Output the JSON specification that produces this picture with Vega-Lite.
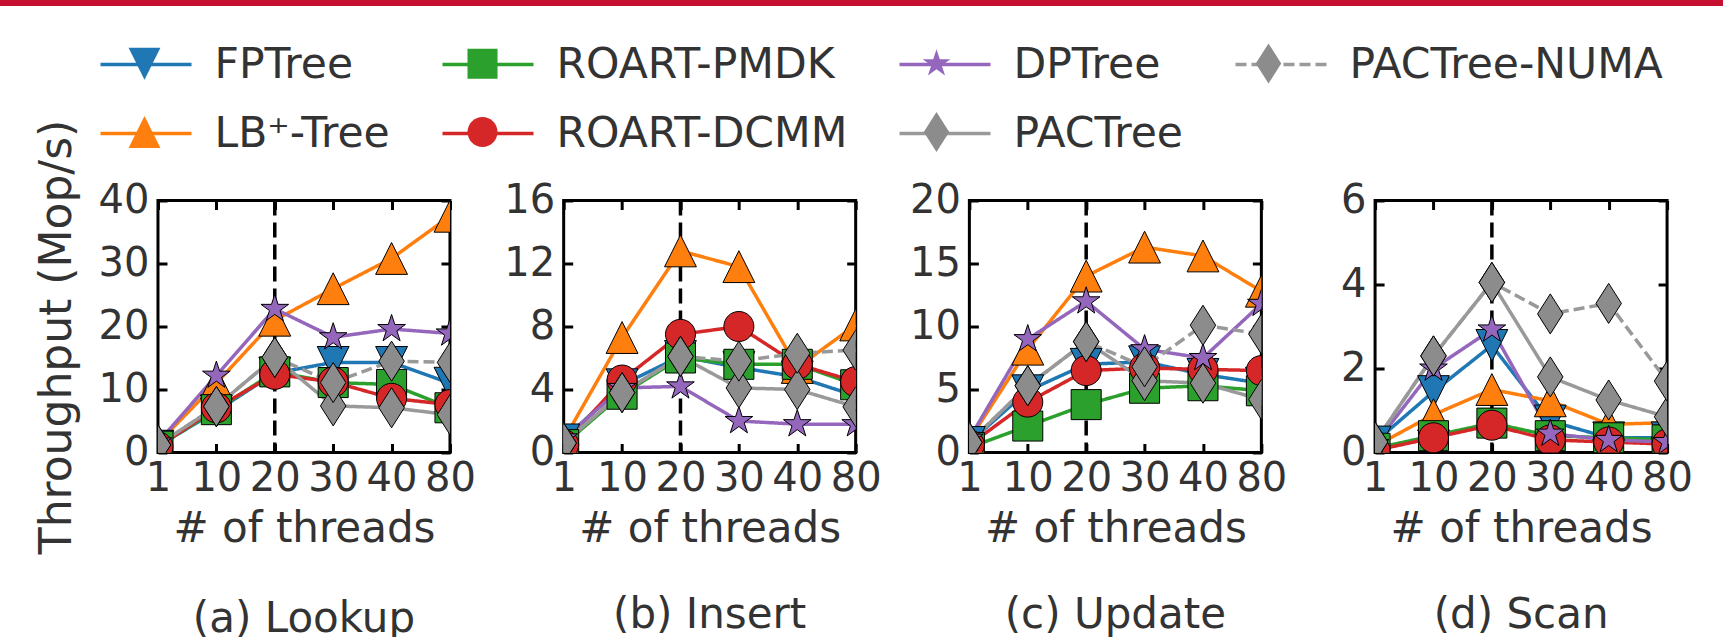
{
  "$schema": "https://vega.github.io/schema/vega-lite/v6.json",
  "padding": 0,
  "background": "white",
  "config": {
    "font": "DejaVu Sans",
    "view": {"stroke": "black", "strokeWidth": 3},
    "axis": {"grid": false, "domain": false, "tickColor": "black", "tickWidth": 3, "tickSize": -9, "labelFont": "DejaVu Sans", "labelFontSize": 40, "labelColor": "#333333", "titleFont": "DejaVu Sans", "titleFontSize": 42, "titleFontWeight": "normal", "titleColor": "#333333", "labelFlush": false, "labelOverlap": false},
    "legend": {"orient": "none", "legendX": 98.5, "legendY": 17, "columns": 4, "symbolSize": 8281, "labelFont": "DejaVu Sans", "labelFontSize": 42.5, "labelColor": "#333333", "labelLimit": 0, "columnPadding": 45, "rowPadding": -8.5, "padding": 0},
    "title": {"font": "DejaVu Sans", "fontSize": 42, "fontWeight": "normal", "color": "#333333"}
  },
  "data": {"values": [
    {"panel":"a","threads":1,"series":"FPTree","value":1.0},{"panel":"a","threads":10,"series":"FPTree","value":6.6},{"panel":"a","threads":20,"series":"FPTree","value":12.6},{"panel":"a","threads":30,"series":"FPTree","value":14.3},{"panel":"a","threads":40,"series":"FPTree","value":14.3},{"panel":"a","threads":80,"series":"FPTree","value":11.0},
    {"panel":"a","threads":1,"series":"LB⁺-Tree","value":1.5},{"panel":"a","threads":10,"series":"LB⁺-Tree","value":11.0},{"panel":"a","threads":20,"series":"LB⁺-Tree","value":21.0},{"panel":"a","threads":30,"series":"LB⁺-Tree","value":26.0},{"panel":"a","threads":40,"series":"LB⁺-Tree","value":30.8},{"panel":"a","threads":80,"series":"LB⁺-Tree","value":37.5},
    {"panel":"a","threads":1,"series":"ROART-PMDK","value":1.0},{"panel":"a","threads":10,"series":"ROART-PMDK","value":6.8},{"panel":"a","threads":20,"series":"ROART-PMDK","value":12.8},{"panel":"a","threads":30,"series":"ROART-PMDK","value":11.1},{"panel":"a","threads":40,"series":"ROART-PMDK","value":10.8},{"panel":"a","threads":80,"series":"ROART-PMDK","value":7.1},
    {"panel":"a","threads":1,"series":"ROART-DCMM","value":0.9},{"panel":"a","threads":10,"series":"ROART-DCMM","value":7.1},{"panel":"a","threads":20,"series":"ROART-DCMM","value":12.4},{"panel":"a","threads":30,"series":"ROART-DCMM","value":11.2},{"panel":"a","threads":40,"series":"ROART-DCMM","value":8.6},{"panel":"a","threads":80,"series":"ROART-DCMM","value":7.6},
    {"panel":"a","threads":1,"series":"DPTree","value":1.6},{"panel":"a","threads":10,"series":"DPTree","value":12.2},{"panel":"a","threads":20,"series":"DPTree","value":22.8},{"panel":"a","threads":30,"series":"DPTree","value":18.3},{"panel":"a","threads":40,"series":"DPTree","value":19.6},{"panel":"a","threads":80,"series":"DPTree","value":18.9},
    {"panel":"a","threads":1,"series":"PACTree","value":1.2},{"panel":"a","threads":10,"series":"PACTree","value":7.3},{"panel":"a","threads":20,"series":"PACTree","value":15.1},{"panel":"a","threads":30,"series":"PACTree","value":7.4},{"panel":"a","threads":40,"series":"PACTree","value":7.1},{"panel":"a","threads":80,"series":"PACTree","value":6.0},
    {"panel":"a","threads":1,"series":"PACTree-NUMA","value":1.2},{"panel":"a","threads":10,"series":"PACTree-NUMA","value":7.3},{"panel":"a","threads":20,"series":"PACTree-NUMA","value":15.1},{"panel":"a","threads":30,"series":"PACTree-NUMA","value":11.1},{"panel":"a","threads":40,"series":"PACTree-NUMA","value":14.5},{"panel":"a","threads":80,"series":"PACTree-NUMA","value":14.3},

    {"panel":"b","threads":1,"series":"FPTree","value":0.8},{"panel":"b","threads":10,"series":"FPTree","value":4.3},{"panel":"b","threads":20,"series":"FPTree","value":6.1},{"panel":"b","threads":30,"series":"FPTree","value":5.4},{"panel":"b","threads":40,"series":"FPTree","value":4.8},{"panel":"b","threads":80,"series":"FPTree","value":3.6},
    {"panel":"b","threads":1,"series":"LB⁺-Tree","value":0.8},{"panel":"b","threads":10,"series":"LB⁺-Tree","value":7.3},{"panel":"b","threads":20,"series":"LB⁺-Tree","value":12.8},{"panel":"b","threads":30,"series":"LB⁺-Tree","value":11.8},{"panel":"b","threads":40,"series":"LB⁺-Tree","value":5.4},{"panel":"b","threads":80,"series":"LB⁺-Tree","value":8.1},
    {"panel":"b","threads":1,"series":"ROART-PMDK","value":0.5},{"panel":"b","threads":10,"series":"ROART-PMDK","value":3.7},{"panel":"b","threads":20,"series":"ROART-PMDK","value":6.0},{"panel":"b","threads":30,"series":"ROART-PMDK","value":5.6},{"panel":"b","threads":40,"series":"ROART-PMDK","value":5.6},{"panel":"b","threads":80,"series":"ROART-PMDK","value":4.3},
    {"panel":"b","threads":1,"series":"ROART-DCMM","value":0.5},{"panel":"b","threads":10,"series":"ROART-DCMM","value":4.6},{"panel":"b","threads":20,"series":"ROART-DCMM","value":7.5},{"panel":"b","threads":30,"series":"ROART-DCMM","value":8.0},{"panel":"b","threads":40,"series":"ROART-DCMM","value":5.6},{"panel":"b","threads":80,"series":"ROART-DCMM","value":4.5},
    {"panel":"b","threads":1,"series":"DPTree","value":0.9},{"panel":"b","threads":10,"series":"DPTree","value":4.1},{"panel":"b","threads":20,"series":"DPTree","value":4.2},{"panel":"b","threads":30,"series":"DPTree","value":2.0},{"panel":"b","threads":40,"series":"DPTree","value":1.8},{"panel":"b","threads":80,"series":"DPTree","value":1.8},
    {"panel":"b","threads":1,"series":"PACTree","value":0.6},{"panel":"b","threads":10,"series":"PACTree","value":3.8},{"panel":"b","threads":20,"series":"PACTree","value":6.1},{"panel":"b","threads":30,"series":"PACTree","value":4.1},{"panel":"b","threads":40,"series":"PACTree","value":4.0},{"panel":"b","threads":80,"series":"PACTree","value":2.9},
    {"panel":"b","threads":1,"series":"PACTree-NUMA","value":0.6},{"panel":"b","threads":10,"series":"PACTree-NUMA","value":3.8},{"panel":"b","threads":20,"series":"PACTree-NUMA","value":6.1},{"panel":"b","threads":30,"series":"PACTree-NUMA","value":5.8},{"panel":"b","threads":40,"series":"PACTree-NUMA","value":6.3},{"panel":"b","threads":80,"series":"PACTree-NUMA","value":6.5},

    {"panel":"c","threads":1,"series":"FPTree","value":0.8},{"panel":"c","threads":10,"series":"FPTree","value":4.9},{"panel":"c","threads":20,"series":"FPTree","value":7.0},{"panel":"c","threads":30,"series":"FPTree","value":7.2},{"panel":"c","threads":40,"series":"FPTree","value":6.2},{"panel":"c","threads":80,"series":"FPTree","value":5.5},
    {"panel":"c","threads":1,"series":"LB⁺-Tree","value":1.0},{"panel":"c","threads":10,"series":"LB⁺-Tree","value":8.2},{"panel":"c","threads":20,"series":"LB⁺-Tree","value":14.0},{"panel":"c","threads":30,"series":"LB⁺-Tree","value":16.3},{"panel":"c","threads":40,"series":"LB⁺-Tree","value":15.6},{"panel":"c","threads":80,"series":"LB⁺-Tree","value":12.8},
    {"panel":"c","threads":1,"series":"ROART-PMDK","value":0.4},{"panel":"c","threads":10,"series":"ROART-PMDK","value":2.1},{"panel":"c","threads":20,"series":"ROART-PMDK","value":3.8},{"panel":"c","threads":30,"series":"ROART-PMDK","value":5.1},{"panel":"c","threads":40,"series":"ROART-PMDK","value":5.3},{"panel":"c","threads":80,"series":"ROART-PMDK","value":4.9},
    {"panel":"c","threads":1,"series":"ROART-DCMM","value":0.6},{"panel":"c","threads":10,"series":"ROART-DCMM","value":4.0},{"panel":"c","threads":20,"series":"ROART-DCMM","value":6.5},{"panel":"c","threads":30,"series":"ROART-DCMM","value":6.7},{"panel":"c","threads":40,"series":"ROART-DCMM","value":6.6},{"panel":"c","threads":80,"series":"ROART-DCMM","value":6.5},
    {"panel":"c","threads":1,"series":"DPTree","value":1.1},{"panel":"c","threads":10,"series":"DPTree","value":9.0},{"panel":"c","threads":20,"series":"DPTree","value":12.0},{"panel":"c","threads":30,"series":"DPTree","value":8.2},{"panel":"c","threads":40,"series":"DPTree","value":7.5},{"panel":"c","threads":80,"series":"DPTree","value":11.8},
    {"panel":"c","threads":1,"series":"PACTree","value":0.8},{"panel":"c","threads":10,"series":"PACTree","value":5.3},{"panel":"c","threads":20,"series":"PACTree","value":8.8},{"panel":"c","threads":30,"series":"PACTree","value":5.7},{"panel":"c","threads":40,"series":"PACTree","value":5.5},{"panel":"c","threads":80,"series":"PACTree","value":4.2},
    {"panel":"c","threads":1,"series":"PACTree-NUMA","value":0.8},{"panel":"c","threads":10,"series":"PACTree-NUMA","value":5.3},{"panel":"c","threads":20,"series":"PACTree-NUMA","value":8.8},{"panel":"c","threads":30,"series":"PACTree-NUMA","value":6.8},{"panel":"c","threads":40,"series":"PACTree-NUMA","value":10.1},{"panel":"c","threads":80,"series":"PACTree-NUMA","value":9.4},

    {"panel":"d","threads":1,"series":"FPTree","value":0.25},{"panel":"d","threads":10,"series":"FPTree","value":1.45},{"panel":"d","threads":20,"series":"FPTree","value":2.55},{"panel":"d","threads":30,"series":"FPTree","value":0.75},{"panel":"d","threads":40,"series":"FPTree","value":0.35},{"panel":"d","threads":80,"series":"FPTree","value":0.35},
    {"panel":"d","threads":1,"series":"LB⁺-Tree","value":0.15},{"panel":"d","threads":10,"series":"LB⁺-Tree","value":0.9},{"panel":"d","threads":20,"series":"LB⁺-Tree","value":1.5},{"panel":"d","threads":30,"series":"LB⁺-Tree","value":1.23},{"panel":"d","threads":40,"series":"LB⁺-Tree","value":0.67},{"panel":"d","threads":80,"series":"LB⁺-Tree","value":0.71},
    {"panel":"d","threads":1,"series":"ROART-PMDK","value":0.1},{"panel":"d","threads":10,"series":"ROART-PMDK","value":0.4},{"panel":"d","threads":20,"series":"ROART-PMDK","value":0.7},{"panel":"d","threads":30,"series":"ROART-PMDK","value":0.4},{"panel":"d","threads":40,"series":"ROART-PMDK","value":0.35},{"panel":"d","threads":80,"series":"ROART-PMDK","value":0.3},
    {"panel":"d","threads":1,"series":"ROART-DCMM","value":0.05},{"panel":"d","threads":10,"series":"ROART-DCMM","value":0.35},{"panel":"d","threads":20,"series":"ROART-DCMM","value":0.65},{"panel":"d","threads":30,"series":"ROART-DCMM","value":0.3},{"panel":"d","threads":40,"series":"ROART-DCMM","value":0.25},{"panel":"d","threads":80,"series":"ROART-DCMM","value":0.2},
    {"panel":"d","threads":1,"series":"DPTree","value":0.2},{"panel":"d","threads":10,"series":"DPTree","value":2.0},{"panel":"d","threads":20,"series":"DPTree","value":2.93},{"panel":"d","threads":30,"series":"DPTree","value":0.45},{"panel":"d","threads":40,"series":"DPTree","value":0.3},{"panel":"d","threads":80,"series":"DPTree","value":0.25},
    {"panel":"d","threads":1,"series":"PACTree","value":0.25},{"panel":"d","threads":10,"series":"PACTree","value":2.3},{"panel":"d","threads":20,"series":"PACTree","value":4.05},{"panel":"d","threads":30,"series":"PACTree","value":1.8},{"panel":"d","threads":40,"series":"PACTree","value":1.25},{"panel":"d","threads":80,"series":"PACTree","value":0.85},
    {"panel":"d","threads":1,"series":"PACTree-NUMA","value":0.25},{"panel":"d","threads":10,"series":"PACTree-NUMA","value":2.3},{"panel":"d","threads":20,"series":"PACTree-NUMA","value":4.05},{"panel":"d","threads":30,"series":"PACTree-NUMA","value":3.3},{"panel":"d","threads":40,"series":"PACTree-NUMA","value":3.55},{"panel":"d","threads":80,"series":"PACTree-NUMA","value":1.7}
  ]},
  "center": true,
  "spacing": 111.5,
  "vconcat": [
    {
      "width": 1852, "height": 6,
      "view": {"fill": "#c5112f", "stroke": null},
      "data": {"values": [{}]},
      "mark": {"type": "point", "opacity": 0},
      "encoding": {}
    },
    {
      "bounds": "flush",
      "spacing": 113.7,
      "hconcat": [
        {
          "width": 292, "height": 252,
          "title": {"text": "(a) Lookup", "orient": "bottom", "offset": 45, "frame": "group"},
          "resolve": {"axis": {"x": "independent", "y": "independent"}},
          "layer": [
            {"transform": [{"filter": "datum.panel === 'a' && datum.threads === 20 && datum.series === 'FPTree'"}],
             "mark": {"type": "rule", "color": "black", "strokeWidth": 3.5, "strokeDash": [15, 7]},
             "encoding": {"x": {"field": "threads", "type": "ordinal", "scale": {"type": "point", "domain": [1,10,20,30,40,80], "padding": 0}, "axis": null}}},
            {"transform": [{"filter": "datum.panel === 'a'"}],
             "mark": {"type": "line", "strokeWidth": 3.5, "clip": true},
             "encoding": {
               "x": {"field": "threads", "type": "ordinal", "scale": {"type": "point", "domain": [1,10,20,30,40,80], "padding": 0}, "axis": {"orient": "bottom", "title": "# of threads", "titlePadding": 10, "labelPadding": 15, "labelAngle": 0}},
               "y": {"field": "value", "type": "quantitative", "scale": {"domain": [0, 40], "nice": false}, "axis": {"orient": "left", "values": [0,10,20,30,40], "title": "Throughput (Mop/s)", "titleFontSize": 44, "titlePadding": 19, "titleY": 136, "labelPadding": 18}},
               "color": {"field": "series", "type": "nominal", "scale": {"domain": ["FPTree","LB⁺-Tree","ROART-PMDK","ROART-DCMM","DPTree","PACTree","PACTree-NUMA"], "range": ["#1f77b4","#ff7f0e","#2ca02c","#d62728","#9467bd","#999999","#999999"]}, "legend": {"title": null, "symbolType": "stroke", "symbolStrokeWidth": 3.5, "labelOffset": 21}},
               "strokeDash": {"field": "series", "type": "nominal", "scale": {"domain": ["FPTree","LB⁺-Tree","ROART-PMDK","ROART-DCMM","DPTree","PACTree","PACTree-NUMA"], "range": [[1,0],[1,0],[1,0],[1,0],[1,0],[1,0],[11,5]]}, "legend": {"title": null, "symbolType": "stroke", "symbolStrokeWidth": 3.5, "labelOffset": 21}}
             }},
            {"transform": [{"filter": "datum.panel === 'a'"}],
             "mark": {"type": "point", "filled": true, "stroke": "black", "strokeWidth": 1, "size": 8281, "opacity": 1, "clip": true},
             "encoding": {
               "x": {"field": "threads", "type": "ordinal", "scale": {"type": "point", "domain": [1,10,20,30,40,80], "padding": 0}, "axis": {"orient": "top", "labels": false, "title": null}},
               "y": {"field": "value", "type": "quantitative", "scale": {"domain": [0, 40], "nice": false}, "axis": {"orient": "right", "values": [0,10,20,30,40], "labels": false, "title": null}},
               "fill": {"field": "series", "type": "nominal", "sort": null, "scale": {"range": ["#1f77b4","#ff7f0e","#2ca02c","#d62728","#9467bd","#8c8c8c","#8c8c8c"]}, "legend": {"title": null, "symbolStrokeColor": "black", "symbolStrokeWidth": 1, "labelOpacity": 0, "labelOffset": 23.5, "zindex": 1}},
               "shape": {"field": "series", "type": "nominal", "sort": null, "scale": {"range": ["M-1,0M1,0M0,0.35L0.35,-0.35L-0.35,-0.35Z","M-1,0M1,0M0,-0.35L0.35,0.35L-0.35,0.35Z","M-1,0M1,0M-0.33,-0.33L0.33,-0.33L0.33,0.33L-0.33,0.33Z","M-1,0M1,0M0.33,0A0.33,0.33,0,1,1,-0.33,0A0.33,0.33,0,1,1,0.33,0Z","M-1,0M1,0M0,-0.32L0.072,-0.099L0.304,-0.099L0.116,0.038L0.188,0.259L0,0.122L-0.188,0.259L-0.116,0.038L-0.304,-0.099L-0.072,-0.099Z","M-1,0M1,0M0,-0.44L0.28,0L0,0.44L-0.28,0Z","M-1,0M1,0M0,-0.44L0.28,0L0,0.44L-0.28,0Z"]}, "legend": {"title": null, "symbolStrokeColor": "black", "symbolStrokeWidth": 1, "labelOpacity": 0, "labelOffset": 23.5, "zindex": 1}}
             }}
          ]
        },
        {
          "width": 292, "height": 252,
          "title": {"text": "(b) Insert", "orient": "bottom", "offset": 45, "frame": "group"},
          "resolve": {"axis": {"x": "independent", "y": "independent"}},
          "layer": [
            {"transform": [{"filter": "datum.panel === 'b' && datum.threads === 20 && datum.series === 'FPTree'"}],
             "mark": {"type": "rule", "color": "black", "strokeWidth": 3.5, "strokeDash": [15, 7]},
             "encoding": {"x": {"field": "threads", "type": "ordinal", "scale": {"type": "point", "domain": [1,10,20,30,40,80], "padding": 0}, "axis": null}}},
            {"transform": [{"filter": "datum.panel === 'b'"}],
             "mark": {"type": "line", "strokeWidth": 3.5, "clip": true},
             "encoding": {
               "x": {"field": "threads", "type": "ordinal", "scale": {"type": "point", "domain": [1,10,20,30,40,80], "padding": 0}, "axis": {"orient": "bottom", "title": "# of threads", "titlePadding": 10, "labelPadding": 15, "labelAngle": 0}},
               "y": {"field": "value", "type": "quantitative", "scale": {"domain": [0, 16], "nice": false}, "axis": {"orient": "left", "values": [0,4,8,12,16], "title": null, "labelPadding": 18}},
               "color": {"field": "series", "type": "nominal", "scale": {"domain": ["FPTree","LB⁺-Tree","ROART-PMDK","ROART-DCMM","DPTree","PACTree","PACTree-NUMA"], "range": ["#1f77b4","#ff7f0e","#2ca02c","#d62728","#9467bd","#999999","#999999"]}, "legend": {"title": null, "symbolType": "stroke", "symbolStrokeWidth": 3.5, "labelOffset": 21}},
               "strokeDash": {"field": "series", "type": "nominal", "scale": {"domain": ["FPTree","LB⁺-Tree","ROART-PMDK","ROART-DCMM","DPTree","PACTree","PACTree-NUMA"], "range": [[1,0],[1,0],[1,0],[1,0],[1,0],[1,0],[11,5]]}, "legend": {"title": null, "symbolType": "stroke", "symbolStrokeWidth": 3.5, "labelOffset": 21}}
             }},
            {"transform": [{"filter": "datum.panel === 'b'"}],
             "mark": {"type": "point", "filled": true, "stroke": "black", "strokeWidth": 1, "size": 8281, "opacity": 1, "clip": true},
             "encoding": {
               "x": {"field": "threads", "type": "ordinal", "scale": {"type": "point", "domain": [1,10,20,30,40,80], "padding": 0}, "axis": {"orient": "top", "labels": false, "title": null}},
               "y": {"field": "value", "type": "quantitative", "scale": {"domain": [0, 16], "nice": false}, "axis": {"orient": "right", "values": [0,4,8,12,16], "labels": false, "title": null}},
               "fill": {"field": "series", "type": "nominal", "sort": null, "scale": {"range": ["#1f77b4","#ff7f0e","#2ca02c","#d62728","#9467bd","#8c8c8c","#8c8c8c"]}, "legend": {"title": null, "symbolStrokeColor": "black", "symbolStrokeWidth": 1, "labelOpacity": 0, "labelOffset": 23.5, "zindex": 1}},
               "shape": {"field": "series", "type": "nominal", "sort": null, "scale": {"range": ["M-1,0M1,0M0,0.35L0.35,-0.35L-0.35,-0.35Z","M-1,0M1,0M0,-0.35L0.35,0.35L-0.35,0.35Z","M-1,0M1,0M-0.33,-0.33L0.33,-0.33L0.33,0.33L-0.33,0.33Z","M-1,0M1,0M0.33,0A0.33,0.33,0,1,1,-0.33,0A0.33,0.33,0,1,1,0.33,0Z","M-1,0M1,0M0,-0.32L0.072,-0.099L0.304,-0.099L0.116,0.038L0.188,0.259L0,0.122L-0.188,0.259L-0.116,0.038L-0.304,-0.099L-0.072,-0.099Z","M-1,0M1,0M0,-0.44L0.28,0L0,0.44L-0.28,0Z","M-1,0M1,0M0,-0.44L0.28,0L0,0.44L-0.28,0Z"]}, "legend": {"title": null, "symbolStrokeColor": "black", "symbolStrokeWidth": 1, "labelOpacity": 0, "labelOffset": 23.5, "zindex": 1}}
             }}
          ]
        },
        {
          "width": 292, "height": 252,
          "title": {"text": "(c) Update", "orient": "bottom", "offset": 45, "frame": "group"},
          "resolve": {"axis": {"x": "independent", "y": "independent"}},
          "layer": [
            {"transform": [{"filter": "datum.panel === 'c' && datum.threads === 20 && datum.series === 'FPTree'"}],
             "mark": {"type": "rule", "color": "black", "strokeWidth": 3.5, "strokeDash": [15, 7]},
             "encoding": {"x": {"field": "threads", "type": "ordinal", "scale": {"type": "point", "domain": [1,10,20,30,40,80], "padding": 0}, "axis": null}}},
            {"transform": [{"filter": "datum.panel === 'c'"}],
             "mark": {"type": "line", "strokeWidth": 3.5, "clip": true},
             "encoding": {
               "x": {"field": "threads", "type": "ordinal", "scale": {"type": "point", "domain": [1,10,20,30,40,80], "padding": 0}, "axis": {"orient": "bottom", "title": "# of threads", "titlePadding": 10, "labelPadding": 15, "labelAngle": 0}},
               "y": {"field": "value", "type": "quantitative", "scale": {"domain": [0, 20], "nice": false}, "axis": {"orient": "left", "values": [0,5,10,15,20], "title": null, "labelPadding": 18}},
               "color": {"field": "series", "type": "nominal", "scale": {"domain": ["FPTree","LB⁺-Tree","ROART-PMDK","ROART-DCMM","DPTree","PACTree","PACTree-NUMA"], "range": ["#1f77b4","#ff7f0e","#2ca02c","#d62728","#9467bd","#999999","#999999"]}, "legend": {"title": null, "symbolType": "stroke", "symbolStrokeWidth": 3.5, "labelOffset": 21}},
               "strokeDash": {"field": "series", "type": "nominal", "scale": {"domain": ["FPTree","LB⁺-Tree","ROART-PMDK","ROART-DCMM","DPTree","PACTree","PACTree-NUMA"], "range": [[1,0],[1,0],[1,0],[1,0],[1,0],[1,0],[11,5]]}, "legend": {"title": null, "symbolType": "stroke", "symbolStrokeWidth": 3.5, "labelOffset": 21}}
             }},
            {"transform": [{"filter": "datum.panel === 'c'"}],
             "mark": {"type": "point", "filled": true, "stroke": "black", "strokeWidth": 1, "size": 8281, "opacity": 1, "clip": true},
             "encoding": {
               "x": {"field": "threads", "type": "ordinal", "scale": {"type": "point", "domain": [1,10,20,30,40,80], "padding": 0}, "axis": {"orient": "top", "labels": false, "title": null}},
               "y": {"field": "value", "type": "quantitative", "scale": {"domain": [0, 20], "nice": false}, "axis": {"orient": "right", "values": [0,5,10,15,20], "labels": false, "title": null}},
               "fill": {"field": "series", "type": "nominal", "sort": null, "scale": {"range": ["#1f77b4","#ff7f0e","#2ca02c","#d62728","#9467bd","#8c8c8c","#8c8c8c"]}, "legend": {"title": null, "symbolStrokeColor": "black", "symbolStrokeWidth": 1, "labelOpacity": 0, "labelOffset": 23.5, "zindex": 1}},
               "shape": {"field": "series", "type": "nominal", "sort": null, "scale": {"range": ["M-1,0M1,0M0,0.35L0.35,-0.35L-0.35,-0.35Z","M-1,0M1,0M0,-0.35L0.35,0.35L-0.35,0.35Z","M-1,0M1,0M-0.33,-0.33L0.33,-0.33L0.33,0.33L-0.33,0.33Z","M-1,0M1,0M0.33,0A0.33,0.33,0,1,1,-0.33,0A0.33,0.33,0,1,1,0.33,0Z","M-1,0M1,0M0,-0.32L0.072,-0.099L0.304,-0.099L0.116,0.038L0.188,0.259L0,0.122L-0.188,0.259L-0.116,0.038L-0.304,-0.099L-0.072,-0.099Z","M-1,0M1,0M0,-0.44L0.28,0L0,0.44L-0.28,0Z","M-1,0M1,0M0,-0.44L0.28,0L0,0.44L-0.28,0Z"]}, "legend": {"title": null, "symbolStrokeColor": "black", "symbolStrokeWidth": 1, "labelOpacity": 0, "labelOffset": 23.5, "zindex": 1}}
             }}
          ]
        },
        {
          "width": 292, "height": 252,
          "title": {"text": "(d) Scan", "orient": "bottom", "offset": 45, "frame": "group"},
          "resolve": {"axis": {"x": "independent", "y": "independent"}},
          "layer": [
            {"transform": [{"filter": "datum.panel === 'd' && datum.threads === 20 && datum.series === 'FPTree'"}],
             "mark": {"type": "rule", "color": "black", "strokeWidth": 3.5, "strokeDash": [15, 7]},
             "encoding": {"x": {"field": "threads", "type": "ordinal", "scale": {"type": "point", "domain": [1,10,20,30,40,80], "padding": 0}, "axis": null}}},
            {"transform": [{"filter": "datum.panel === 'd'"}],
             "mark": {"type": "line", "strokeWidth": 3.5, "clip": true},
             "encoding": {
               "x": {"field": "threads", "type": "ordinal", "scale": {"type": "point", "domain": [1,10,20,30,40,80], "padding": 0}, "axis": {"orient": "bottom", "title": "# of threads", "titlePadding": 10, "labelPadding": 15, "labelAngle": 0}},
               "y": {"field": "value", "type": "quantitative", "scale": {"domain": [0, 6], "nice": false}, "axis": {"orient": "left", "values": [0,2,4,6], "title": null, "labelPadding": 18}},
               "color": {"field": "series", "type": "nominal", "scale": {"domain": ["FPTree","LB⁺-Tree","ROART-PMDK","ROART-DCMM","DPTree","PACTree","PACTree-NUMA"], "range": ["#1f77b4","#ff7f0e","#2ca02c","#d62728","#9467bd","#999999","#999999"]}, "legend": {"title": null, "symbolType": "stroke", "symbolStrokeWidth": 3.5, "labelOffset": 21}},
               "strokeDash": {"field": "series", "type": "nominal", "scale": {"domain": ["FPTree","LB⁺-Tree","ROART-PMDK","ROART-DCMM","DPTree","PACTree","PACTree-NUMA"], "range": [[1,0],[1,0],[1,0],[1,0],[1,0],[1,0],[11,5]]}, "legend": {"title": null, "symbolType": "stroke", "symbolStrokeWidth": 3.5, "labelOffset": 21}}
             }},
            {"transform": [{"filter": "datum.panel === 'd'"}],
             "mark": {"type": "point", "filled": true, "stroke": "black", "strokeWidth": 1, "size": 8281, "opacity": 1, "clip": true},
             "encoding": {
               "x": {"field": "threads", "type": "ordinal", "scale": {"type": "point", "domain": [1,10,20,30,40,80], "padding": 0}, "axis": {"orient": "top", "labels": false, "title": null}},
               "y": {"field": "value", "type": "quantitative", "scale": {"domain": [0, 6], "nice": false}, "axis": {"orient": "right", "values": [0,2,4,6], "labels": false, "title": null}},
               "fill": {"field": "series", "type": "nominal", "sort": null, "scale": {"range": ["#1f77b4","#ff7f0e","#2ca02c","#d62728","#9467bd","#8c8c8c","#8c8c8c"]}, "legend": {"title": null, "symbolStrokeColor": "black", "symbolStrokeWidth": 1, "labelOpacity": 0, "labelOffset": 23.5, "zindex": 1}},
               "shape": {"field": "series", "type": "nominal", "sort": null, "scale": {"range": ["M-1,0M1,0M0,0.35L0.35,-0.35L-0.35,-0.35Z","M-1,0M1,0M0,-0.35L0.35,0.35L-0.35,0.35Z","M-1,0M1,0M-0.33,-0.33L0.33,-0.33L0.33,0.33L-0.33,0.33Z","M-1,0M1,0M0.33,0A0.33,0.33,0,1,1,-0.33,0A0.33,0.33,0,1,1,0.33,0Z","M-1,0M1,0M0,-0.32L0.072,-0.099L0.304,-0.099L0.116,0.038L0.188,0.259L0,0.122L-0.188,0.259L-0.116,0.038L-0.304,-0.099L-0.072,-0.099Z","M-1,0M1,0M0,-0.44L0.28,0L0,0.44L-0.28,0Z","M-1,0M1,0M0,-0.44L0.28,0L0,0.44L-0.28,0Z"]}, "legend": {"title": null, "symbolStrokeColor": "black", "symbolStrokeWidth": 1, "labelOpacity": 0, "labelOffset": 23.5, "zindex": 1}}
             }}
          ]
        }
      ]
    }
  ]
}
